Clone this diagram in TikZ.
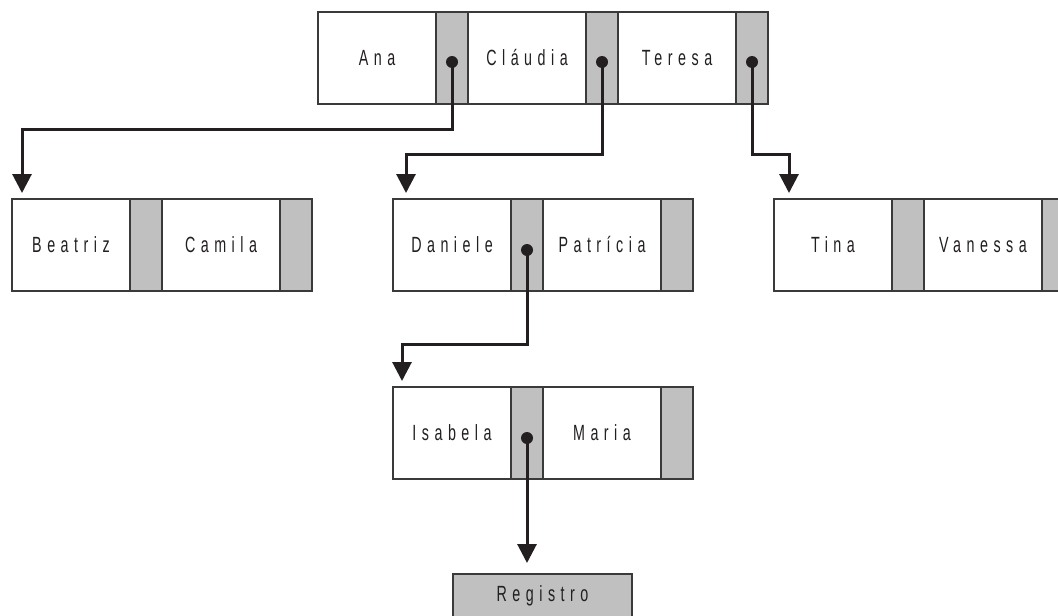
\documentclass[tikz,border=0pt]{standalone}
\usepackage{fontspec}
\newfontfamily\cellfont[FakeStretch=0.65,LetterSpace=25]{Liberation Sans}
\usepackage{tikz}
\usetikzlibrary{positioning, calc, arrows.meta}

\definecolor{cellgray}{HTML}{C0C0C0}
\definecolor{inkblack}{HTML}{231F20}
\definecolor{boxline}{HTML}{3A3A3A}

\tikzset{
  cellbase/.style={draw=boxline, line width=1.3pt, inner sep=0pt, outer sep=0pt,
    minimum height=92pt, text=inkblack, font=\cellfont\fontsize{22}{24}\selectfont},
  keycell/.style={cellbase, fill=white, minimum width=118pt},
  ptrcell/.style={cellbase, fill=cellgray, minimum width=32pt},
  regbox/.style={cellbase, fill=cellgray, minimum width=179pt, minimum height=44pt},
  link/.style={draw=inkblack, line width=3pt, -{Triangle[width=19pt,length=19pt]}},
  ptrdot/.style={fill=inkblack}
}

\begin{document}
\begin{tikzpicture}[x=1pt, y=-1pt]
\path[use as bounding box, clip] (0,0) rectangle (1058,616);

\node[keycell, anchor=north west] (ana) at (318,12) {Ana};
\node[ptrcell, right=0pt of ana] (anaptr) {};
\node[keycell, right=0pt of anaptr] (claudia) {Cláudia};
\node[ptrcell, right=0pt of claudia] (claudiaptr) {};
\node[keycell, right=0pt of claudiaptr] (teresa) {Teresa};
\node[ptrcell, right=0pt of teresa] (teresaptr) {};

\node[keycell, anchor=north west] (beatriz) at (12,199) {Beatriz};
\node[ptrcell, right=0pt of beatriz] (beatrizptr) {};
\node[keycell, right=0pt of beatrizptr] (camila) {Camila};
\node[ptrcell, right=0pt of camila] (camilaptr) {};

\node[keycell, anchor=north west] (daniele) at (393,199) {Daniele};
\node[ptrcell, right=0pt of daniele] (danieleptr) {};
\node[keycell, right=0pt of danieleptr] (patricia) {Patrícia};
\node[ptrcell, right=0pt of patricia] (patriciaptr) {};

\node[keycell, anchor=north west] (tina) at (774,199) {Tina};
\node[ptrcell, right=0pt of tina] (tinaptr) {};
\node[keycell, right=0pt of tinaptr] (vanessa) {Vanessa};
\node[ptrcell, right=0pt of vanessa] (vanessaptr) {};

\node[keycell, anchor=north west] (isabela) at (393,387) {Isabela};
\node[ptrcell, right=0pt of isabela] (isabelaptr) {};
\node[keycell, right=0pt of isabelaptr] (maria) {Maria};
\node[ptrcell, right=0pt of maria] (mariaptr) {};

\node[regbox, anchor=north west] (registro) at (453,574) {Registro};

\coordinate (anadot) at ($(anaptr.center)+(0,4)$);
\coordinate (claudiadot) at ($(claudiaptr.center)+(0,4)$);
\coordinate (teresadot) at ($(teresaptr.center)+(0,4)$);
\coordinate (danieledot) at ($(danieleptr.center)+(0,5)$);
\coordinate (isabeladot) at ($(isabelaptr.center)+(0,5)$);

\coordinate (beatrizin) at ($(beatriz.north west)+(10,-6)$);
\coordinate (danielein) at ($(daniele.north west)+(13,-6)$);
\coordinate (tinain) at ($(tina.north west)+(15,-6)$);
\coordinate (isabelain) at ($(isabela.north west)+(9,-6)$);
\coordinate (registroin) at ($(isabeladot |- registro.north)+(0,-11)$);

\draw[link] (anadot) -- (anadot |- 0,129) -| (beatrizin);
\draw[link] (claudiadot) -- (claudiadot |- 0,154) -| (danielein);
\draw[link] (teresadot) -- (teresadot |- 0,154) -| (tinain);
\draw[link] (danieledot) -- (danieledot |- 0,344) -| (isabelain);
\draw[link] (isabeladot) -- (registroin);

\foreach \d in {anadot,claudiadot,teresadot,danieledot,isabeladot}
  \fill[ptrdot] (\d) circle (6pt);
\end{tikzpicture}
\end{document}
